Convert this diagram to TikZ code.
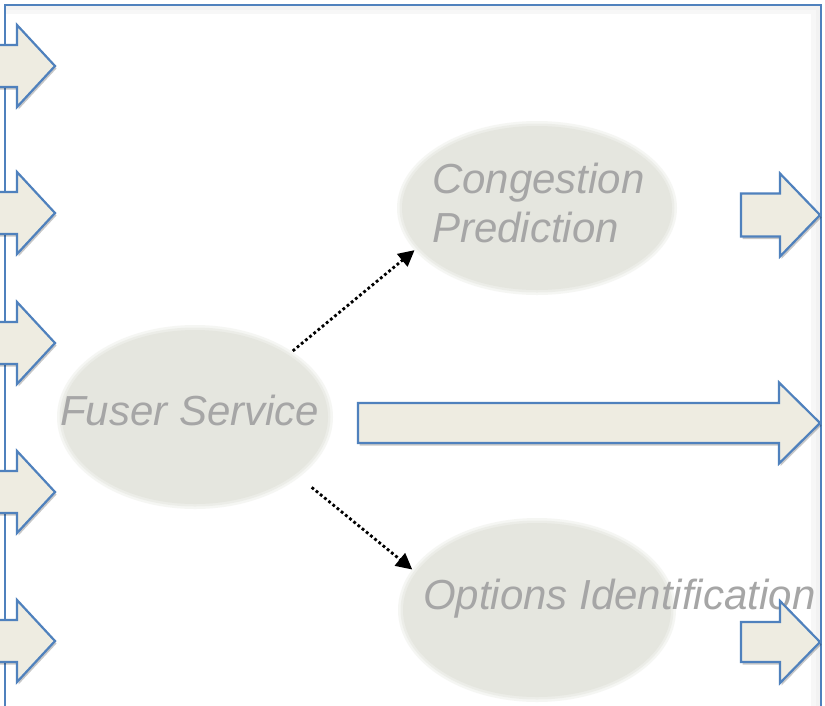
\documentclass[tikz,border=0pt]{standalone}
\usepackage{fontspec}
\setmainfont{Liberation Sans}
\usetikzlibrary{arrows.meta,shapes.geometric,shadows}

\definecolor{frameblue}{HTML}{4F81BD}
\definecolor{arrowfill}{HTML}{EEECE1}
\definecolor{ellfill}{HTML}{E5E6DF}
\definecolor{labelgrey}{HTML}{A6A6A6}

\tikzset{
  frameline/.style={draw=frameblue, line width=2.3pt},
  blockarrow/.style={draw=frameblue, fill=arrowfill, line width=2.2pt, line join=miter,
    drop shadow={shadow xshift=1.5pt, shadow yshift=-2.5pt, opacity=0.22, fill=black}},
  softnode/.style={ellipse, draw=none, inner sep=0pt, outer sep=0pt},
  proclabel/.style={text=labelgrey, font=\fontsize{42}{50}\selectfont\itshape, inner sep=0pt},
  flow/.style={draw=black, line width=2.8pt, dash pattern=on 2.8pt off 2.6pt,
    -{Triangle[length=16pt,width=16pt]}},
}

% block arrow: tail x, head base x, tip x, centre y, shaft half height, head half height
\newcommand\blockarr[6]{%
  \draw[blockarrow] (#1,#4-#5) -- (#2,#4-#5) -- (#2,#4-#6) -- (#3,#4)
    -- (#2,#4+#6) -- (#2,#4+#5) -- (#1,#4+#5) -- cycle;}

% ellipse with a softened rim, filled around an existing node
\newcommand\hazyfill[3]{%
  \foreach \d/\op in {0/0.35,-2.5/0.5,-5/1}{%
    \fill[ellfill, opacity=\op] (#1.center) ellipse [x radius=#2pt+\d pt, y radius=#3pt+\d pt];}}

\begin{document}
\begin{tikzpicture}[x=1pt, y=-1pt]
\useasboundingbox (0,0) rectangle (825,705);
\clip (0,0) rectangle (825,705);
\fill[white] (0,0) rectangle (825,705);

% open frame with a faint inner shade along the top and right
\draw[black!3, line width=8pt] (6,10) -- (815,10) -- (815,720);
\draw[black!5, line width=4pt] (6,8) -- (818,8) -- (818,720);
\draw[frameline] (5,720) -- (5,5) -- (821,5) -- (821,720);

% process ellipses
\node[softnode, minimum width=276pt, minimum height=184pt] (fuser) at (195,417) {};
\node[softnode, minimum width=280pt, minimum height=174pt] (cong) at (537,208) {};
\node[softnode, minimum width=278pt, minimum height=184pt] (opts) at (537,610) {};
\hazyfill{fuser}{138}{92}
\hazyfill{cong}{140}{87}
\hazyfill{opts}{139}{92}

% labels
\node[proclabel, anchor=base west] (fuserlbl) at (60,425) {Fuser Service};
\node[proclabel, anchor=base west] (conglbl1) at (432,193) {Congestion};
\node[proclabel, anchor=base west] (conglbl2) at (432,242) {Prediction};
\node[proclabel, anchor=base west] (optslbl) at (423,609) {Options Identification};

% incoming arrows on the left edge
\foreach \yc in {66,213,343,492,641}{\blockarr{-30}{17}{55}{\yc}{21}{41}}

% outgoing arrows on the right
\blockarr{741}{780}{820}{215}{21.5}{41.5}
\blockarr{358}{779}{820}{423}{20}{40.5}
\blockarr{741}{780}{820}{642}{20}{41}

% dotted flows out of the fuser
\draw[flow, shorten <=1pt] (fuser.34) -- (cong.199);
\draw[flow, shorten <=16pt] (fuser.-30) -- (opts.162);
\end{tikzpicture}
\end{document}
